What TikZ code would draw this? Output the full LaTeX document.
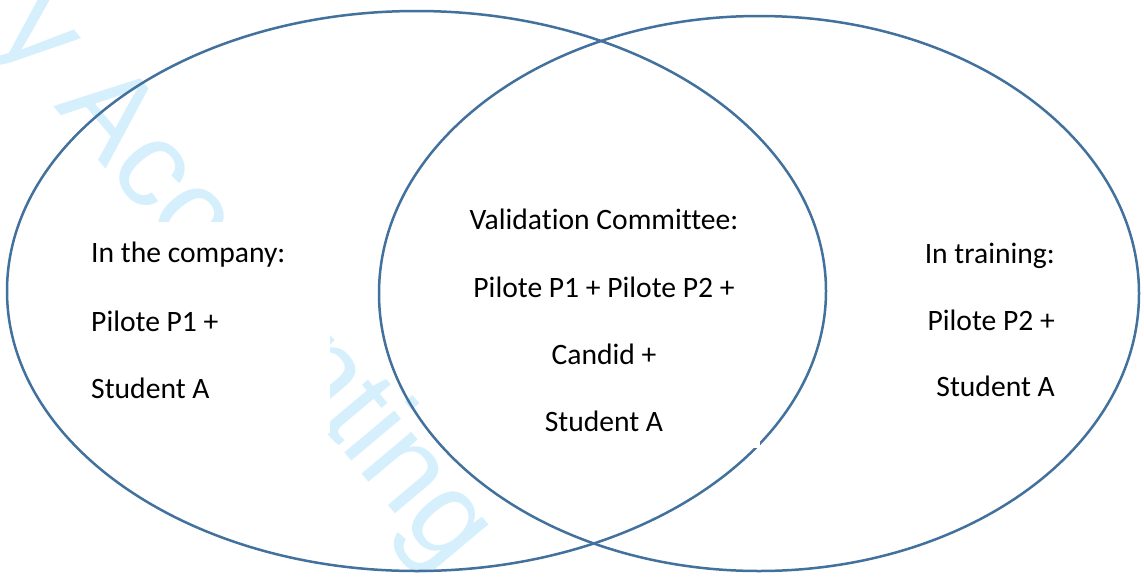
\documentclass[tikz,border=0pt]{standalone}
\usepackage{fontspec}
\setmainfont{Carlito}[Ligatures=NoCommon]
\newfontfamily\wmfont{Liberation Sans}
\definecolor{edgeblue}{RGB}{65,113,156}
\definecolor{wmcyan}{RGB}{213,240,252}
\begin{document}
\begin{tikzpicture}[x=1pt,y=-1pt,
  set/.style={draw=edgeblue,line width=2.5pt},
  txt/.style={font=\fontsize{29.6}{34}\selectfont,inner sep=0pt,text=black},
  wm/.style={font=\wmfont\fontsize{123}{123}\selectfont,inner sep=0pt,text=wmcyan,anchor=base west,rotate=-50}]
\useasboundingbox[fill=white] (0,0) rectangle (1144,582);
\begin{scope}
\clip (0,0) rectangle (1144,582);
% watermark
\node[wm] (wmark) at (-8,33) {y Accounting};
\end{scope}
% white text box hiding part of the watermark
\fill[white] (80,222) rectangle (330,433);
% the two sets
\draw[set] (416.5,291) ellipse [x radius=409.5, y radius=280];
\draw[set] (759,293.5) ellipse [x radius=380, y radius=277.5];
% small white notch of a text box corner
\fill[white] (752,441) rectangle (760,447.5);
% left
\node[txt,anchor=base west] (l1) at (91,262) {In the company:};
\node[txt,anchor=base west] (l2) at (91,331) {Pilote P1 +};
\node[txt,anchor=base west] (l3) at (91,398) {Student A};
% centre
\node[txt,anchor=base] (c1) at (604,229) {Validation Committee:};
\node[txt,anchor=base] (c2) at (604,297) {Pilote P1 + Pilote P2 +};
\node[txt,anchor=base] (c3) at (604,364) {Candid +};
\node[txt,anchor=base] (c4) at (604,431) {Student A};
% right
\node[txt,anchor=base east] (r1) at (1055,263) {In training:};
\node[txt,anchor=base east] (r2) at (1055,330) {Pilote P2 +};
\node[txt,anchor=base east] (r3) at (1055,396) {Student A};
\end{tikzpicture}
\end{document}
